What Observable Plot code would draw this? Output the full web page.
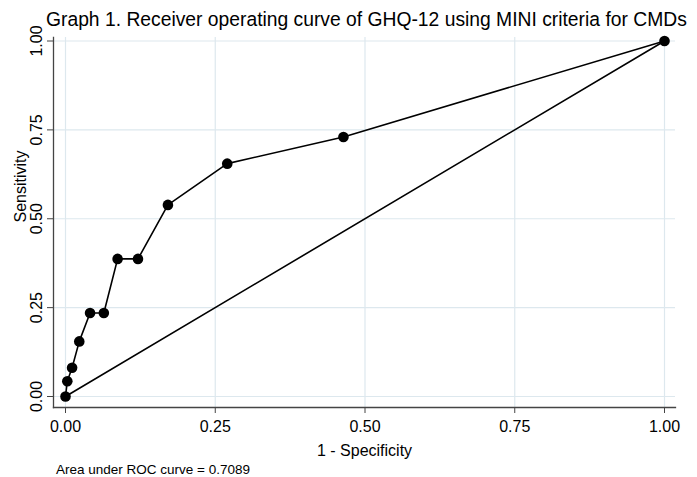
<!DOCTYPE html>
<html>
<head>
<meta charset="utf-8">
<script src="https://cdn.jsdelivr.net/npm/d3@7"></script>
<script src="https://cdn.jsdelivr.net/npm/@observablehq/plot@0.6"></script>
<style>
  html, body { margin: 0; padding: 0; background: #fff; }
  #wrap { position: relative; width: 697px; height: 477px; font-family: "Liberation Sans", Arial, Helvetica, sans-serif; color: #000; }
  #title { position: absolute; left: 46px; top: 10px; font-size: 19.3px; line-height: 20px; white-space: nowrap; }
  #chart { position: absolute; left: 0; top: 30px; }
  #chart svg { overflow: visible; }
  #caption { position: absolute; left: 56px; top: 462.6px; font-size: 13.5px; line-height: 13.5px; white-space: nowrap; }
</style>
</head>
<body>
<div id="wrap">
  <div id="title"></div>
  <div id="chart"></div>
  <div id="caption"></div>
</div>
<script>
const titleText = "Graph 1. Receiver operating curve of GHQ-12 using MINI criteria for CMDs";
const captionText = "Area under ROC curve = 0.7089";
const xLabel = "1 - Specificity";
const yLabel = "Sensitivity";

// ROC points (1 - specificity, sensitivity)
const oneMinusSpec = [0.000, 0.003, 0.011, 0.023, 0.041, 0.064, 0.087, 0.121, 0.171, 0.270, 0.464, 1.000];
const sensitivity  = [0.000, 0.043, 0.081, 0.155, 0.235, 0.235, 0.387, 0.387, 0.539, 0.655, 0.730, 1.000];

// reference diagonal
const refX = [0, 1];
const refY = [0, 1];

const tickValues = [0, 0.25, 0.5, 0.75, 1];

const roc = oneMinusSpec.map((x, i) => ({x, y: sensitivity[i]}));
const diag = refX.map((x, i) => ({x, y: refY[i]}));

document.getElementById("title").textContent = titleText;
document.getElementById("caption").textContent = captionText;

const fmt = d3.format(".2f");

const chart = Plot.plot({
  width: 697,
  height: 432,
  marginLeft: 53,
  marginRight: 22,
  marginTop: 7,
  marginBottom: 55,
  insetLeft: 12,
  insetRight: 11,
  insetTop: 3.5,
  insetBottom: 11,
  style: {fontFamily: "Liberation Sans, Arial, sans-serif", color: "#000", background: "#fff", overflow: "visible"},
  x: {domain: [0, 1]},
  y: {domain: [0, 1]},
  marks: [
    Plot.gridX(tickValues, {stroke: "#dde8ee", strokeOpacity: 1, strokeWidth: 1.2}),
    Plot.gridY(tickValues, {stroke: "#dde8ee", strokeOpacity: 1, strokeWidth: 1.2}),
    Plot.frame({anchor: "left", stroke: "#444", strokeWidth: 1.3}),
    Plot.frame({anchor: "bottom", stroke: "#444", strokeWidth: 1.3}),
    Plot.axisX({ticks: tickValues, tickFormat: fmt, tickSize: 6, tickPadding: 7, fontSize: 16, label: null, stroke: "#444"}),
    Plot.axisY({ticks: tickValues, tickFormat: fmt, tickSize: 6, tickPadding: 6, tickRotate: -90, fontSize: 16, label: null, stroke: "#444"}),
    Plot.text([xLabel], {text: d => d, frameAnchor: "bottom", lineAnchor: "bottom", dy: 48, fontSize: 16}),
    Plot.text([yLabel], {text: d => d, frameAnchor: "left", lineAnchor: "bottom", rotate: -90, dx: -28, fontSize: 16}),
    Plot.line(diag, {x: "x", y: "y", stroke: "#000", strokeWidth: 1.6}),
    Plot.line(roc, {x: "x", y: "y", stroke: "#000", strokeWidth: 1.6}),
    Plot.dot(roc, {x: "x", y: "y", r: 5.3, fill: "#000", stroke: "none"})
  ]
});
document.getElementById("chart").appendChild(chart);
</script>
</body>
</html>
